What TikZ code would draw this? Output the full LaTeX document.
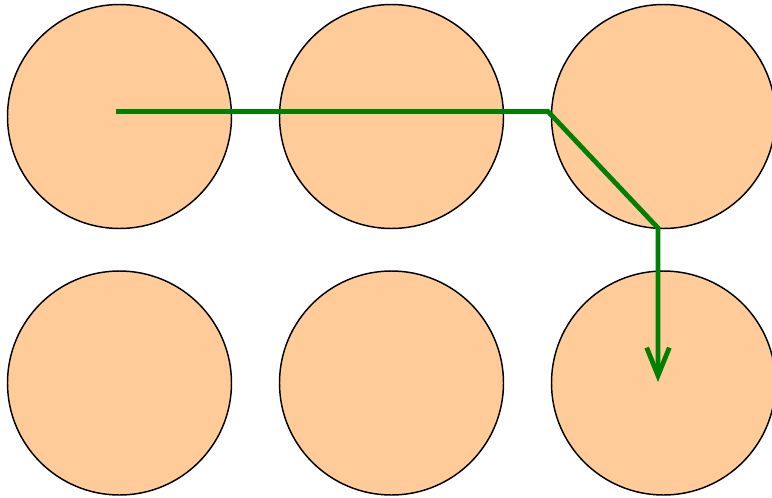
\documentclass[tikz,border=0pt]{standalone}
\usetikzlibrary{arrows.meta}
\definecolor{peach}{RGB}{255,204,153}
\definecolor{pathgreen}{RGB}{0,128,0}
\begin{document}
\begin{tikzpicture}[x=0.75pt,y=-0.75pt,
  ball/.style={circle,draw=black,fill=peach,line width=1.1pt,minimum size=224*0.75pt,inner sep=0pt},
  route/.style={draw=pathgreen,line width=3.6pt,line join=miter,-{Straight Barb[length=21pt,width=17pt,line width=3.6pt]}}]
\useasboundingbox (0,0) rectangle (772,497);
\node[ball] (a) at (119.5,116.5) {};
\node[ball] (b) at (391.5,116.5) {};
\node[ball] (c) at (663.5,116.5) {};
\node[ball] (d) at (119.5,383) {};
\node[ball] (e) at (391.5,383) {};
\node[ball] (f) at (663.5,383) {};
\coordinate (s) at (116,111.5);
\coordinate (k1) at (548,111.5);
\coordinate (k2) at (658,228);
\coordinate (t) at (658,382);
\path[route] (s) -- (k1) -- (k2) -- (t);
\end{tikzpicture}
\end{document}
